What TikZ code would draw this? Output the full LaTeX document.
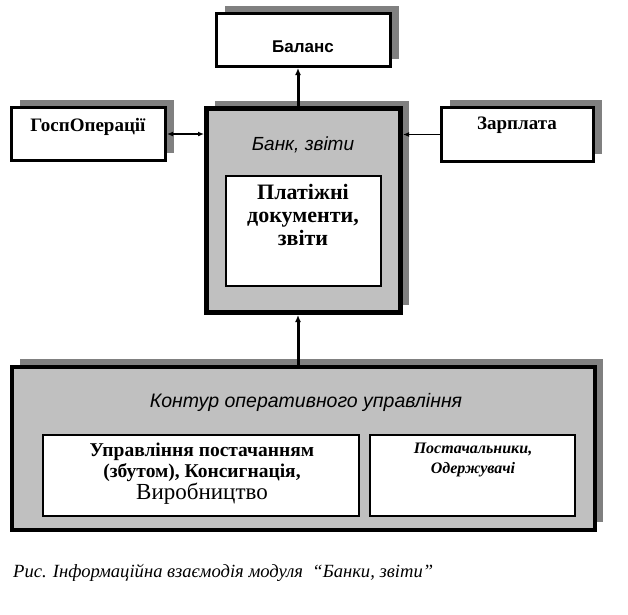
\documentclass[tikz,border=0pt]{standalone}
\usepackage{fontspec}
\setmainfont{Liberation Serif}
\setsansfont{Liberation Sans}
\usetikzlibrary{shadows,arrows.meta}
\definecolor{boxgray}{HTML}{C0C0C0}
\definecolor{shgray}{HTML}{808080}
\tikzset{
  shbox/.style={draw=black, rectangle, inner sep=0pt,
    general shadow={shadow xshift=8pt, shadow yshift=8pt, fill=shgray}},
  outerbox/.style={shbox, fill=white, line width=3pt},
  graybox/.style={shbox, fill=boxgray},
  innerbox/.style={draw=black, fill=white, rectangle, inner sep=0pt, line width=2.2pt},
  lbl/.style={inner sep=0pt, align=center},
  serifbold/.style={lbl, font=\fontsize{19}{22}\selectfont\bfseries},
  sansit/.style={lbl, font=\fontsize{19}{20}\selectfont\sffamily\itshape},
  arr/.style={-{Latex[length=7pt,width=6pt]}},
  harr/.style={-{Latex[length=6pt,width=5pt]}},
  darr/.style={{Latex[length=6pt,width=5pt]}-{Latex[length=6pt,width=5pt]}},
}
\begin{document}
\begin{tikzpicture}[x=1pt,y=-1pt]
\useasboundingbox[fill=white] (0,0) rectangle (628,614);
% boxes
\node[outerbox, minimum width=174pt, minimum height=53pt] (balans) at (303.5,40) {};
\node[outerbox, minimum width=154pt, minimum height=53pt] (gosp) at (88.5,134) {};
\node[outerbox, minimum width=152pt, minimum height=54pt] (zarp) at (517.5,134.5) {};
\node[graybox, line width=5pt, minimum width=194pt, minimum height=204pt] (bank) at (303.5,210.5) {};
\node[innerbox, minimum width=155pt, minimum height=110pt] (plat) at (303.5,231) {};
\node[graybox, line width=4pt, minimum width=583pt, minimum height=163pt] (kontur) at (303.5,448.5) {};
\node[innerbox, minimum width=316pt, minimum height=81pt] (upr) at (201,475.5) {};
\node[innerbox, minimum width=205pt, minimum height=81pt] (post) at (472.5,475.5) {};
% labels
\node[lbl, font=\fontsize{17}{20}\selectfont\sffamily\bfseries] (tbalans) at (303,47) {Баланс};
\node[serifbold] (tgosp) at (88,127) {ГоспОперації};
\node[serifbold] (tzarp) at (517,125) {Зарплата};
\node[sansit] (tbank) at (303,145) {Банк, звіти};
\node[lbl, font=\fontsize{22}{23}\selectfont\bfseries] (tplat) at (303,215) {Платіжні\\документи,\\звіти};
\node[lbl, font=\fontsize{19.5}{20}\selectfont\sffamily\itshape] (tkontur) at (306,402) {Контур оперативного управління};
\node[lbl, font=\fontsize{19.5}{21.5}\selectfont] (tupr) at (202,473.5) {\textbf{Управління постачанням}\\\textbf{(збутом), Консигнація,}\\{\fontsize{23}{21.5}\selectfont Виробництво}};
\node[lbl, font=\fontsize{16}{20}\selectfont\bfseries\itshape] (tpost) at (473,460) {Постачальники,\\Одержувачі};
\node[lbl, anchor=west, font=\fontsize{16}{18}\selectfont\itshape] (caption) at (13,573) {\resizebox{420pt}{!}{Рис. Інформаційна взаємодія модуля~~“Банки, звіти”}};
% connectors
\draw[arr, line width=3pt] ([xshift=-5.5pt]bank.north) -- ([xshift=-5.5pt]balans.south);
\draw[arr, line width=3pt] ([xshift=-5.5pt]kontur.north) -- ([xshift=-5.5pt]bank.south);
\draw[darr, line width=1.8pt] (gosp.east) -- (bank.west |- gosp.east);
\draw[harr, line width=1.8pt] (zarp.west) -- (bank.east |- zarp.west);
\end{tikzpicture}
\end{document}
